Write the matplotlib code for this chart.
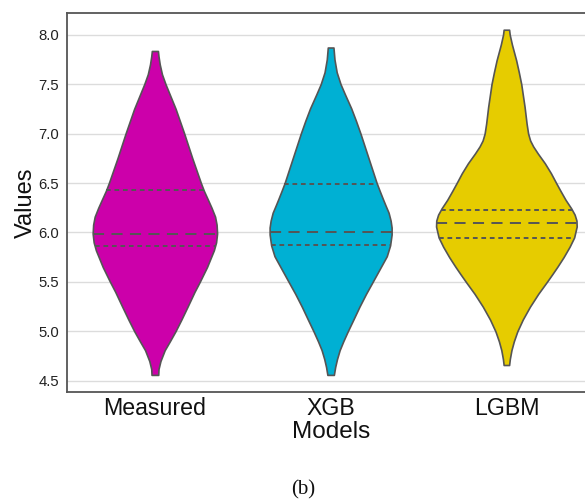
import numpy as np
import matplotlib
matplotlib.use("Agg")
import matplotlib.pyplot as plt

# ---- data ----
categories = ["Measured", "XGB", "LGBM"]

measured_y = [4.56, 4.62, 4.70, 4.81, 4.90, 5.00, 5.12, 5.25, 5.40, 5.50, 5.65, 5.75,
              5.82, 5.90, 5.99, 6.08, 6.16, 6.25, 6.33, 6.42, 6.50, 6.75, 7.00, 7.25,
              7.40, 7.50, 7.60, 7.70, 7.78, 7.835]
measured_d = [3.3, 3.6, 5.5, 9.7, 14.8, 20.3, 26.2, 32.3, 39.2, 44.3, 51.5, 55.5,
              58.3, 60.5, 61.5, 61.0, 59.5, 56.0, 52.5, 48.5, 45.5, 37.0, 29.0, 20.5,
              14.5, 10.5, 7.0, 4.8, 3.6, 3.0]

xgb_y = [4.56, 4.64, 4.72, 4.81, 4.90, 5.00, 5.12, 5.25, 5.38, 5.50, 5.63, 5.76,
         5.87, 5.98, 6.05, 6.12, 6.20, 6.28, 6.33, 6.42, 6.50, 6.75, 7.00, 7.13,
         7.256, 7.40, 7.50, 7.62, 7.75, 7.87]
xgb_d = [3.2, 4.5, 6.3, 8.9, 12.5, 16.9, 22.5, 28.5, 35.0, 41.5, 48.5, 55.5,
         58.8, 60.3, 60.3, 59.3, 57.3, 54.0, 52.0, 48.5, 45.5, 37.5, 29.5, 25.0,
         20.3, 14.0, 9.8, 6.0, 3.8, 2.8]

lgbm_y = [4.66, 4.72, 4.81, 4.90, 5.00, 5.12, 5.25, 5.38, 5.50, 5.58, 5.655, 5.75,
          5.856, 5.95, 6.06, 6.12, 6.18, 6.245, 6.33, 6.42, 6.50, 6.60, 6.70, 6.80,
          6.87, 6.93, 7.00, 7.10, 7.27, 7.50, 7.62, 7.74, 7.82, 7.90, 8.00, 8.05]
lgbm_d = [2.7, 3.4, 5.0, 7.4, 10.8, 16.2, 23.3, 31.5, 40.0, 45.5, 50.5, 56.5,
          62.5, 67.0, 69.5, 69.3, 67.5, 64.0, 58.5, 53.5, 49.2, 44.0, 38.0, 31.0,
          26.5, 23.5, 21.5, 20.0, 18.0, 14.7, 12.3, 9.7, 7.6, 5.5, 3.3, 2.7]

q1 = [5.86, 5.87, 5.945]
medians = [5.98, 6.00, 6.10]
q3 = [6.43, 6.49, 6.227]

colors = ["#CC00AA", "#00B0D3", "#E6CC00"]

# ---- style ----
plt.rcParams["font.family"] = ["Liberation Sans", "DejaVu Sans"]
plt.rcParams["lines.scale_dashes"] = False

fig = plt.figure(figsize=(5.85, 5.0), dpi=100)
ax = fig.add_axes([67.0 / 585, (500 - 392.3) / 500, (594.25 - 67.0) / 585, (392.3 - 13.0) / 500])

profiles = [(measured_y, measured_d), (xgb_y, xgb_d), (lgbm_y, lgbm_d)]
dmax_all = max(max(d) for _, d in profiles)
base_width = 0.8
widths = [base_width * max(d) / dmax_all for _, d in profiles]

vpstats = []
for (ys, ds), m in zip(profiles, medians):
    ys = np.asarray(ys, float)
    ds = np.asarray(ds, float)
    vpstats.append(dict(coords=ys, vals=ds, mean=m, median=m,
                        min=ys.min(), max=ys.max()))

positions = np.arange(len(categories))
parts = ax.violin(vpstats, positions=positions, widths=widths,
                  showmeans=False, showextrema=False, showmedians=False)
edge = "#555555"
for body, c in zip(parts["bodies"], colors):
    body.set_facecolor(c)
    body.set_edgecolor(edge)
    body.set_linewidth(1.2)
    body.set_alpha(1)
    body.set_joinstyle("round")
    body.set_zorder(2)

# quartile lines
for i, ((ys, ds), w) in enumerate(zip(profiles, widths)):
    ys = np.asarray(ys, float)
    ds = np.asarray(ds, float)
    scale = 0.5 * w / ds.max()
    for val, dashes in ((q1[i], (3.4, 2.7)), (medians[i], (8.0, 5.3)), (q3[i], (3.4, 2.7))):
        hw = np.interp(val, ys, ds) * scale
        ax.plot([positions[i] - hw, positions[i] + hw], [val, val],
                color=edge, lw=1.4, dashes=dashes, zorder=3, dash_capstyle="butt")

ax.set_xlim(-0.5, 2.5)
ax.set_ylim(4.384, 8.219)
ax.set_yticks([4.5, 5.0, 5.5, 6.0, 6.5, 7.0, 7.5, 8.0])
ax.set_yticklabels(["4.5", "5.0", "5.5", "6.0", "6.5", "7.0", "7.5", "8.0"])
ax.set_xticks(positions)
ax.set_xticklabels(categories)
ax.tick_params(axis="y", length=0, pad=5.5, labelsize=10.7, labelcolor="#222222")
ax.tick_params(axis="x", length=0, pad=3.5, labelsize=16.7, labelcolor="#111111")
ax.yaxis.grid(True, color="#dcdcdc", lw=1.0, zorder=0)
ax.xaxis.grid(False)
ax.set_axisbelow(True)
for s in ax.spines.values():
    s.set_color("#555555")
    s.set_linewidth(1.3)

ax.set_xlabel("Models", fontsize=17.5, labelpad=0.5, color="#111111")
ax.set_ylabel("Values", fontsize=17, labelpad=1, color="#111111")

fig.text(303 / 585, 1 - 490 / 500, "(b)", ha="center", va="center",
         fontsize=15, family=["Liberation Serif", "DejaVu Serif"], color="#111111")

fig.savefig("out.png", dpi=100)
